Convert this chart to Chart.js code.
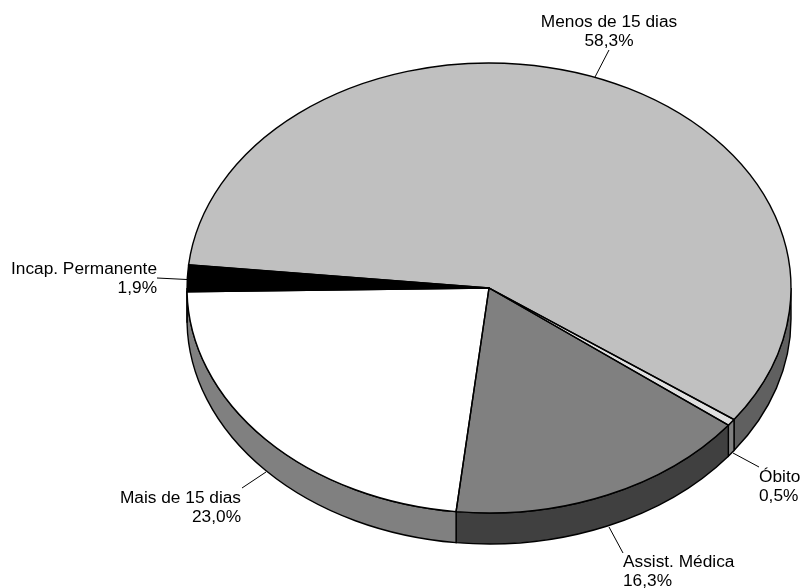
<!DOCTYPE html>
<html>
<head>
<meta charset="utf-8">
<style>html,body{margin:0;padding:0;background:#fff}#w{width:800px;height:588px;position:relative}</style>
<script src="https://cdn.jsdelivr.net/npm/chart.js@4"></script>
</head>
<body>
<div id="w"><canvas id="c" width="800" height="588"></canvas></div>
<script>
const categories = ["Menos de 15 dias", "Óbito", "Assist. Médica", "Mais de 15 dias", "Incap. Permanente"];
const shares = [58.3, 0.5, 16.3, 23.0, 1.9];
const topColors = ["#C0C0C0", "#E0E0E0", "#808080", "#FFFFFF", "#000000"];
const sideColors = ["#606060", "#808080", "#404040", "#808080", "#000000"];

const squashX = 302 / 225, depth = 31;
const labelSpots = [
  {x: 609, y: 27, align: "center", from: [609, 50], to: [595, 77]},
  {x: 759, y: 482, align: "left", from: [759, 467], to: [733, 453]},
  {x: 623, y: 567, align: "left", from: [623, 553], to: [609, 527]},
  {x: 241, y: 503, align: "right", from: [242, 488], to: [266, 472]},
  {x: 157, y: 274, align: "right", from: [157, 278], to: [187, 279.5]}
];

const pie3d = {
  id: "pie3d",
  beforeDatasetsDraw(chart) {
    const ctx = chart.ctx;
    chart.getDatasetMeta(0).data.forEach((arc, i) => {
      const rx = arc.outerRadius * squashX, ry = arc.outerRadius;
      [0, 2 * Math.PI].forEach(k => {
        const lo = Math.max(arc.startAngle, k), hi = Math.min(arc.endAngle, k + Math.PI);
        if (hi <= lo) return;
        ctx.beginPath();
        ctx.ellipse(arc.x, arc.y, rx, ry, 0, lo, hi);
        ctx.ellipse(arc.x, arc.y + depth, rx, ry, 0, hi, lo, true);
        ctx.closePath();
        ctx.fillStyle = sideColors[i];
        ctx.fill();
        ctx.lineWidth = 1.4;
        ctx.strokeStyle = "#000";
        ctx.stroke();
      });
    });
  },
  beforeDatasetDraw(chart) {
    const ctx = chart.ctx, arc = chart.getDatasetMeta(0).data[0];
    ctx.save();
    ctx.translate(arc.x, 0);
    ctx.scale(squashX, 1);
    ctx.translate(-arc.x, 0);
  },
  afterDatasetDraw(chart) {
    const ctx = chart.ctx;
    ctx.restore();
    chart.getDatasetMeta(0).data.forEach(arc => {
      const rx = arc.outerRadius * squashX, ry = arc.outerRadius;
      ctx.beginPath();
      ctx.moveTo(arc.x, arc.y);
      ctx.ellipse(arc.x, arc.y, rx, ry, 0, arc.startAngle, arc.endAngle);
      ctx.closePath();
      ctx.lineWidth = 1.4;
      ctx.strokeStyle = "#000";
      ctx.stroke();
    });
  },
  afterDraw(chart) {
    const ctx = chart.ctx;
    ctx.font = "17.3px 'Liberation Sans', Arial, sans-serif";
    ctx.textBaseline = "alphabetic";
    ctx.fillStyle = "#000";
    ctx.strokeStyle = "#000";
    ctx.lineWidth = 1;
    labelSpots.forEach((s, i) => {
      ctx.textAlign = s.align;
      ctx.fillText(categories[i], s.x, s.y);
      ctx.fillText(shares[i].toFixed(1).replace(".", ",") + "%", s.x, s.y + 19);
      ctx.beginPath();
      ctx.moveTo(s.from[0], s.from[1]);
      ctx.lineTo(s.to[0], s.to[1]);
      ctx.stroke();
    });
  }
};

new Chart(document.getElementById("c"), {
  type: "pie",
  data: {
    labels: categories,
    datasets: [{data: shares, backgroundColor: topColors, borderWidth: 0, clip: false}]
  },
  options: {
    responsive: false,
    animation: false,
    rotation: 275.9,
    layout: {padding: {left: 264, right: 86, top: 63, bottom: 75}},
    plugins: {legend: {display: false}, tooltip: {enabled: false}}
  },
  plugins: [pie3d]
});
</script>
</body>
</html>
